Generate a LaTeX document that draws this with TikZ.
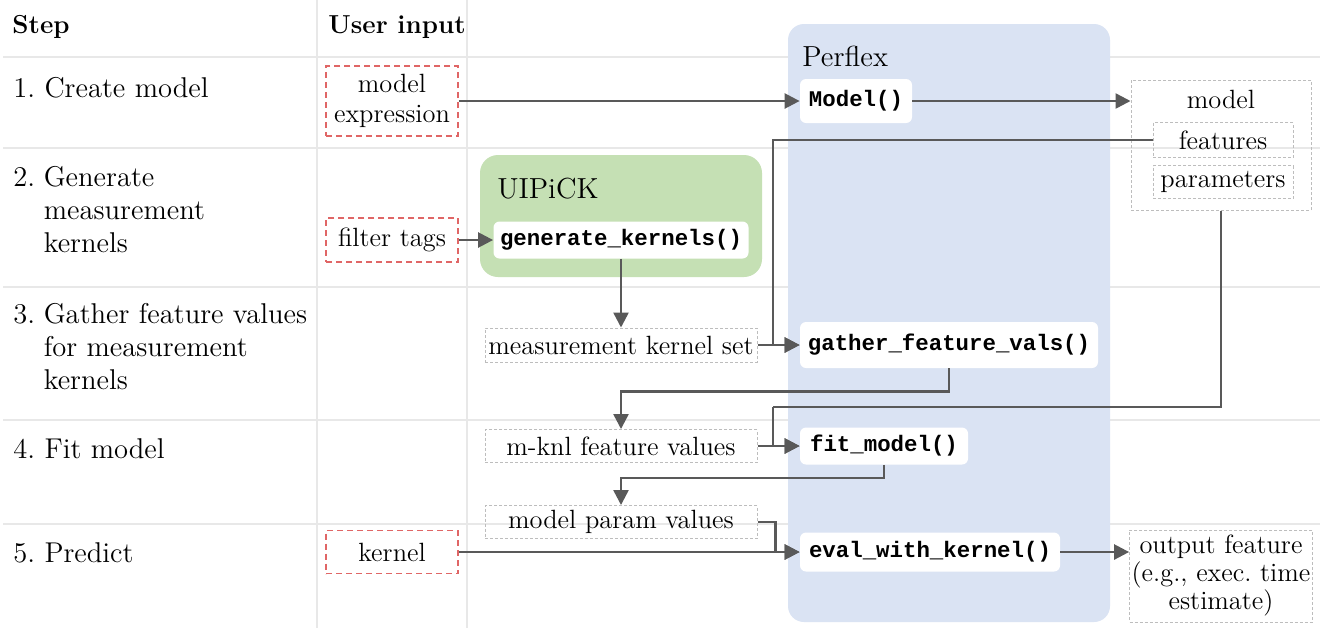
\documentclass[tikz,border=0pt]{standalone}
\usepackage{fontspec}
\setmonofont{Liberation Mono}
\usetikzlibrary{arrows.meta}
\definecolor{perflexbg}{HTML}{DAE3F3}
\definecolor{uipickbg}{HTML}{C5E0B4}
\definecolor{arrowgray}{HTML}{595959}
\definecolor{inred}{HTML}{E06666}
\definecolor{datagray}{HTML}{BDBDBD}
\definecolor{gridgray}{HTML}{E8E8E8}
\tikzset{
  gridline/.style={draw=gridgray, line width=0.6pt},
  userin/.style={draw=inred, dash pattern=on 3pt off 2pt, line width=0.9pt,
    minimum width=66pt, align=center, inner sep=1pt, font=\fontsize{13.2}{15}\selectfont},
  func/.style={fill=white, rounded corners=3pt, inner sep=3pt,
    font=\fontsize{11.2}{13}\selectfont\ttfamily\bfseries},
  data/.style={draw=datagray, dash pattern=on 1.5pt off 1pt, line width=0.5pt,
    align=center, inner sep=1pt, font=\fontsize{13.2}{14}\selectfont},
  steplabel/.style={anchor=base west, inner sep=0pt, font=\fontsize{14.3}{16.5}\selectfont},
  conn/.style={draw=arrowgray, line width=1.25pt, -{Triangle[length=7.5pt,width=7.5pt]}},
  link/.style={draw=arrowgray, line width=1.25pt}
}
\begin{document}
\begin{tikzpicture}[x=0.5pt, y=-0.5pt]
  \useasboundingbox (0,0) rectangle (1325,628);
  \fill[white] (0,0) rectangle (1325,628);
  % table grid
  \foreach \yy in {57,148,287,420,524}
    \draw[gridline] (3,\yy) -- (1320,\yy);
  \foreach \xx in {317,467}
    \draw[gridline] (\xx,0) -- (\xx,628);
  % tool panels
  \fill[perflexbg, rounded corners=8pt] (788,24) rectangle (1110,622);
  \fill[uipickbg, rounded corners=9pt] (480,155) rectangle (762,277);
  \node[anchor=west, inner sep=0pt, font=\fontsize{14.5}{16}\selectfont] (perflex) at (802,56) {Perflex};
  \node[anchor=west, inner sep=0pt, font=\fontsize{14.5}{16}\selectfont] (uipick) at (497,189) {UIPiCK};
  % column heads and steps
  \node[steplabel, font=\fontsize{13}{15}\selectfont\bfseries] (hstep) at (12,33) {Step};
  \node[steplabel, font=\fontsize{13}{15}\selectfont\bfseries] (hinput) at (328,33) {User input};
  \node[steplabel] (s1) at (13,97) {1.\ Create model};
  \node[steplabel] (s2) at (13,186) {\begin{tabular}[t]{@{}l@{\hspace{0.3em}}l@{}}2.&Generate\\&measurement\\&kernels\end{tabular}};
  \node[steplabel] (s3) at (13,323) {\begin{tabular}[t]{@{}l@{\hspace{0.3em}}l@{}}3.&Gather feature values\\&for measurement\\&kernels\end{tabular}};
  \node[steplabel] (s4) at (13,458) {4.\ Fit model};
  \node[steplabel] (s5) at (13,562) {5.\ Predict};
  % user inputs
  \node[userin, minimum height=35pt] (mexpr) at (392,101) {model\\expression};
  \node[userin, minimum height=22pt] (ftags) at (392,240) {filter tags};
  \node[userin, minimum height=21.5pt] (kern) at (392,552) {kernel};
  % functions
  \node[func, minimum width=56pt, minimum height=22pt] (modelf) at (856,101) {Model()};
  \node[func, minimum width=127.5pt, minimum height=18.5pt] (genk) at (621,240) {generate\_kernels()};
  \node[func, minimum width=149pt, minimum height=23pt] (gfv) at (949,345) {gather\_feature\_vals()};
  \node[func, minimum width=84pt, minimum height=18.5pt] (fitm) at (884,446) {fit\_model()};
  \node[func, minimum width=130pt, minimum height=19.5pt] (evalk) at (930,552) {eval\_with\_kernel()};
  % data
  \node[data, minimum width=136pt, minimum height=17pt] (mks) at (621,345) {measurement kernel set};
  \node[data, minimum width=136pt, minimum height=16.5pt] (mfv) at (621,446) {m-knl feature values};
  \node[data, minimum width=136pt, minimum height=16.5pt] (mpv) at (621,522) {model param values};
  \node[data, minimum width=90pt, minimum height=65pt] (modelbox) at (1221,145) {};
  \node[inner sep=0pt, font=\fontsize{13.2}{15}\selectfont] (modelt) at (1221,99) {model};
  \node[data, minimum width=70pt, minimum height=17.5pt] (feat) at (1223,140) {features};
  \node[data, minimum width=70pt, minimum height=16.5pt] (params) at (1223,182) {parameters};
  \node[data, minimum width=90pt, minimum height=46pt] (outf) at (1221,576) {output feature\\(e.g., exec.\ time\\estimate)};
  % connectors
  \coordinate (jn1) at (773,345);
  \coordinate (jn2) at (773,407);
  \draw[conn] (mexpr.east) -- (mexpr.east -| modelf.west);
  \draw[conn] (modelf) -- (modelf -| modelbox.west);
  \draw[conn] (ftags) -- (genk);
  \draw[conn] (genk) -- (mks);
  \draw[conn] (mks) -- (gfv);
  \draw[conn] (feat.west) -| (jn1) -- (gfv.west);
  \draw[conn] (gfv.south) -- ++(0,23) -| (mfv.north);
  \draw[link] (modelbox.south) |- (jn2);
  \draw[conn] (jn2) |- (fitm.west);
  \draw[conn] (mfv) -- (fitm);
  \draw[conn] (fitm.south) -- ++(0,13) -| (mpv.north);
  \draw[conn] (mpv.east) -- ++(18,0) |- (evalk.west);
  \draw[conn] (kern) -- (evalk);
  \draw[conn] (evalk) -- (evalk -| outf.west);
\end{tikzpicture}
\end{document}
